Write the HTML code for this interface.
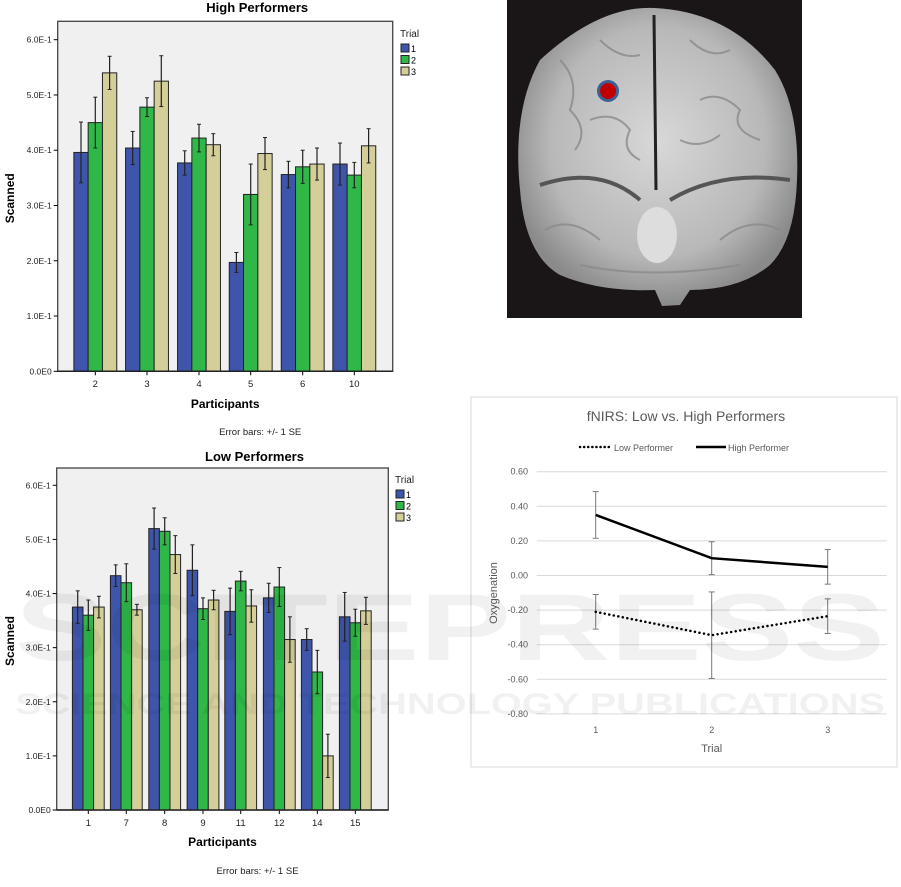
<!DOCTYPE html>
<html><head><meta charset="utf-8"><style>
body{margin:0;background:#fff;width:901px;height:887px;overflow:hidden}
svg{position:absolute;left:0;top:0}
text{font-family:"Liberation Sans",sans-serif}
</style></head><body>
<svg id="s" width="901" height="887" xmlns="http://www.w3.org/2000/svg">
<defs>
<radialGradient id="bg" cx="50%" cy="45%" r="55%">
<stop offset="0" stop-color="#d8d8d8"/><stop offset="0.7" stop-color="#b8b8b8"/><stop offset="1" stop-color="#8a8a8a"/></radialGradient>
</defs>
<rect x="507" y="0" width="295" height="318" fill="#1a1517"/>
<path d="M540 60 Q600 5 655 8 Q730 12 775 70 Q800 110 797 180 Q795 240 770 265 Q740 290 690 290 L680 305 L662 306 L655 290 Q600 292 560 275 Q525 255 520 190 Q512 110 540 60Z" fill="url(#bg)"/>
<g stroke="#8a8a8a" stroke-width="2" fill="none" opacity="0.8">
<path d="M560 60 Q580 80 570 110 Q590 130 575 150"/><path d="M600 40 Q620 60 640 55 M590 120 Q615 110 630 130 Q620 150 640 160"/>
<path d="M690 40 Q710 60 730 50 M700 100 Q720 90 740 110 Q730 130 760 140"/><path d="M680 140 Q700 150 720 135"/>
<path d="M545 230 Q570 215 600 240 M720 240 Q750 215 780 230"/><path d="M580 265 Q650 280 740 265"/>
</g>
<path d="M654 15 L656 190" stroke="#222" stroke-width="3"/>
<path d="M540 185 Q600 165 640 200 M670 200 Q720 170 790 180" stroke="#555" stroke-width="4" fill="none"/>
<ellipse cx="657" cy="235" rx="20" ry="28" fill="#ddd"/>
<circle cx="608" cy="91" r="11" fill="#3b6196"/><circle cx="608" cy="91" r="8" fill="#c00000"/>
</svg>
<script>
const s=document.getElementById('s');let h='';
function r(x,y,w,hh,f,st,sw){h+=`<rect x="${x}" y="${y}" width="${w}" height="${hh}" fill="${f}" stroke="${st||'none'}" stroke-width="${sw||1}"/>`}
function l(x1,y1,x2,y2,c,w,d){h+=`<line x1="${x1}" y1="${y1}" x2="${x2}" y2="${y2}" stroke="${c}" stroke-width="${w||1}" ${d?`stroke-dasharray="${d}" stroke-linecap="round"`:''}/>`}
function t(x,y,s,sz,a,extra){h+=`<text x="${x}" y="${y}" font-size="${sz}" text-anchor="${a||'start'}" ${extra||''}>${s}</text>`}
const C=['#3e55ab','#2fb847','#d4cf98'];
function bar(px0,px1,py0,py1,y0,y6,title,titleY,groups,centers,bw,data,err,legY,legX,xlY,pY,eY){
 r(px0,py0,px1-px0,py1-py0,'#f0f0f0','#444',1.3);
 t((px0+px1)/2+32,titleY,title,13,'middle','font-weight="bold"');
 const u=(y0-y6)/6;
 for(let i=0;i<=6;i++){const y=y0-i*u;l(px0-4,y,px0,y,'#000',1);t(px0-6,y+3,i==0?'0.0E0':i+'.0E-1',8.5,'end','fill="#222"')}
 t(12,(py0+py1)/2,'Scanned',12,'middle',`font-weight="bold" transform="rotate(-90 14 ${(py0+py1)/2})"`);
 groups.forEach((g,i)=>{const c=centers[i];for(let k=0;k<3;k++){const x=c-1.5*bw+k*bw;const v=data[i][k];const y=y0-v*10*u;r(x,y,bw,y0-y,C[k],'#222',1);
  const e=err[i][k];const ex=x+bw/2;l(ex,y-e*10*u,ex,y+e*10*u,'#222',1.2);l(ex-2,y-e*10*u,ex+2,y-e*10*u,'#222',1);l(ex-2,y+e*10*u,ex+2,y+e*10*u,'#222',1)}
  l(c,y0,c,y0+4,'#000',1);t(c,xlY,g,9.5,'middle','fill="#222"')});
 l(px0,y0,px1,y0,'#222',1.5);
 t((px0+px1)/2,pY,'Participants',12,'middle','font-weight="bold"');
 t((px0+px1)/2+35,eY,'Error bars: +/- 1 SE',9.5,'middle','fill="#222"');
 t(legX-1,legY,'Trial',10,'start','fill="#222"');
 for(let k=0;k<3;k++){r(legX,legY+7+k*11.5,8,8,C[k],'#222',1);t(legX+10,legY+15+k*11.5,k+1,9,'start')}
}
bar(57.7,392.7,21.3,371.3,371.3,39.7,'High Performers',12,['2','3','4','5','6','10'],[95.3,147,199,250.7,302.7,354.3],14.3,
[[.396,.45,.54],[.404,.478,.525],[.377,.422,.41],[.197,.32,.394],[.356,.37,.375],[.375,.355,.408]],
[[.055,.046,.03],[.03,.017,.046],[.022,.025,.02],[.018,.055,.029],[.024,.03,.029],[.038,.023,.031]],37,401,387,408,435);
bar(56.7,388.3,468,810,810,485.3,'Low Performers',461,['1','7','8','9','11','12','14','15'],[88.3,126.3,164.7,203,240.7,279.3,317.3,355.3],10.6,
[[.375,.36,.375],[.433,.42,.37],[.52,.515,.472],[.443,.372,.388],[.367,.423,.377],[.392,.412,.315],[.315,.255,.10],[.357,.346,.368]],
[[.03,.028,.02],[.02,.035,.01],[.038,.025,.035],[.047,.02,.018],[.043,.018,.03],[.027,.036,.042],[.02,.04,.04],[.045,.025,.025]],483,396,826,846,874);
// fNIRS
r(471,397,426,370,'#fff','#d9d9d9',1);
t(686,421,'fNIRS: Low vs. High Performers',14,'middle','fill="#595959"');
l(580,447,610,447,'#000',2.5,'0.1 4');t(614,451,'Low Performer',9,'start','fill="#595959"');
l(696,447,726,447,'#000',2.5);t(728,451,'High Performer',9,'start','fill="#595959"');
const Y=v=>471.7+(0.6-v)/0.2*34.6;
for(let i=0;i<8;i++){const v=0.6-i*0.2;const y=Y(v);l(536.7,y,886.7,y,'#d9d9d9',1);t(528,y+3,(v<-0.001?'-':'')+Math.abs(v).toFixed(2),9,'end','fill="#595959"')}
const X=[595.7,711.7,827.7];
X.forEach((x,i)=>t(x,733,i+1,9,'middle','fill="#595959"'));
t(711.7,752,'Trial',11,'middle','fill="#595959"');
t(497,593,'Oxygenation',11,'middle','fill="#595959" transform="rotate(-90 497 593)"');
const H=[.35,.10,.05],He=[.135,.095,.10],L=[-.21,-.345,-.235],Le=[.1,.25,.1];
X.forEach((x,i)=>{[[H,He],[L,Le]].forEach(([a,e])=>{const y1=Y(a[i]+e[i]),y2=Y(a[i]-e[i]);l(x,y1,x,y2,'#777',1);l(x-3,y1,x+3,y1,'#777',1);l(x-3,y2,x+3,y2,'#777',1)})});
h+=`<polyline points="${X.map((x,i)=>x+','+Y(H[i])).join(' ')}" fill="none" stroke="#000" stroke-width="2.5"/>`;
h+=`<polyline points="${X.map((x,i)=>x+','+Y(L[i])).join(' ')}" fill="none" stroke="#000" stroke-width="2.5" stroke-dasharray="0.1 4.5" stroke-linecap="round"/>`;
// watermark
h+=`<g opacity="0.05" fill="#000"><text x="15" y="660" font-size="95" font-weight="bold" textLength="870" lengthAdjust="spacingAndGlyphs">SCITEPRESS</text>
<text x="15" y="714" font-size="30" font-weight="bold" textLength="870" lengthAdjust="spacingAndGlyphs">SCIENCE AND TECHNOLOGY PUBLICATIONS</text></g>`;
s.insertAdjacentHTML('beforeend',h);
</script>
</body></html>
